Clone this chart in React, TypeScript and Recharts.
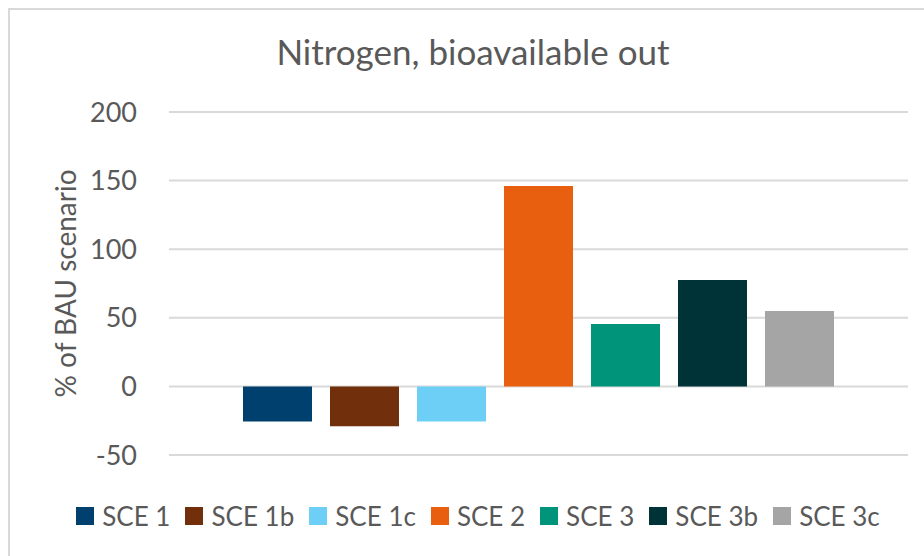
import React from 'react';
import { BarChart, Bar, XAxis, YAxis, CartesianGrid, Legend } from 'recharts';

const chartTitle = 'Nitrogen, bioavailable out';
const yAxisLabel = '% of BAU scenario';
const categories = [''];
const seriesNames = ['SCE 1', 'SCE 1b', 'SCE 1c', 'SCE 2', 'SCE 3', 'SCE 3b', 'SCE 3c'];
const seriesValues = [-25.5, -29, -25.5, 146, 45.5, 77.5, 55];
const seriesColors = ['#00406E', '#722F0B', '#6ECFF6', '#E8600F', '#00957A', '#003338', '#A5A5A5'];
const yTicks = [-50, 0, 50, 100, 150, 200];

const data = categories.map((c) => {
  const row: Record<string, any> = { category: c };
  seriesNames.forEach((n, i) => {
    row[n] = seriesValues[i];
  });
  return row;
});

const FONT = 'Lato, "Liberation Sans", sans-serif';
const TEXT = '#595959';

const LegendContent = (props: any) => {
  const payload = props.payload || [];
  return (
    <div style={{ display: 'flex', justifyContent: 'center', alignItems: 'center', fontFamily: FONT, fontSize: 26, color: TEXT }}>
      {payload.map((p: any, i: number) => (
        <div key={i} style={{ display: 'flex', alignItems: 'center', marginRight: i < payload.length - 1 ? 15 : 0 }}>
          <span style={{ display: 'inline-block', width: 18, height: 18, background: p.color, marginRight: 8 }} />
          <span style={{ lineHeight: '30px' }}>{p.value}</span>
        </div>
      ))}
    </div>
  );
};

const YLabel = (props: any) => {
  const vb = props.viewBox || { x: 0, y: 0, width: 0, height: 0 };
  const cx = 65;
  const cy = vb.y + vb.height / 2;
  return (
    <text
      x={cx}
      y={cy}
      transform={`rotate(-90, ${cx}, ${cy})`}
      textAnchor="middle"
      dominantBaseline="central"
      fill={TEXT}
      fontSize={28}
      fontFamily={FONT}
    >
      {yAxisLabel}
    </text>
  );
};

export default function App() {
  return (
    <div style={{ position: 'absolute', left: 0, top: 0, width: 924, height: 556, overflow: 'hidden', background: '#fff' }}>
      <div style={{ position: 'absolute', left: 8, top: 8, width: 1200, height: 1200, border: '2px solid #d9d9d9', boxSizing: 'border-box' }} />
      <div
        style={{
          position: 'absolute',
          left: 0,
          width: 946,
          top: 29,
          textAlign: 'center',
          fontFamily: FONT,
          fontSize: 35,
          color: TEXT,
          lineHeight: '44px',
        }}
      >
        {chartTitle}
      </div>
      <div style={{ position: 'absolute', left: 0, top: 0 }}>
        <BarChart
          width={924}
          height={556}
          data={data}
          margin={{ top: 112, right: 16, bottom: 101, left: 0 }}
          barGap={18}
          barSize={69}
        >
          <CartesianGrid vertical={false} stroke="#d9d9d9" strokeWidth={2} />
          <XAxis dataKey="category" hide />
          <YAxis
            width={169}
            domain={[-50, 200]}
            ticks={yTicks}
            axisLine={false}
            tickLine={false}
            tickSize={0}
            tickMargin={32}
            tick={{ fill: TEXT, fontSize: 27, fontFamily: FONT }}
            label={<YLabel />}
          />
          <Legend
            layout="horizontal"
            verticalAlign="middle"
            align="center"
            wrapperStyle={{ top: 501, left: 0, width: 956 }}
            content={<LegendContent />}
          />
          {seriesNames.map((n, i) => (
            <Bar key={n} dataKey={n} fill={seriesColors[i]} isAnimationActive={false} />
          ))}
        </BarChart>
      </div>
    </div>
  );
}
